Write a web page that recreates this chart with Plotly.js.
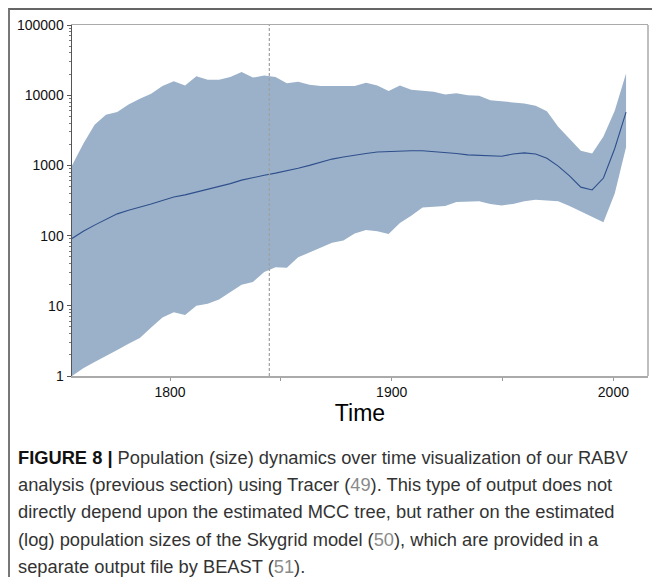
<!DOCTYPE html>
<html>
<head>
<meta charset="utf-8">
<script src="https://cdn.plot.ly/plotly-3.0.1.min.js"></script>
<style>
  html, body { margin: 0; padding: 0; background: #fff; }
  #wrap { position: relative; width: 652px; height: 577px; overflow: hidden; }
  #chart { position: absolute; left: 0; top: 0; width: 652px; height: 577px; }
  #frame { position: absolute; left: 8px; top: 8px; width: 800px; height: 800px;
           border-top: 2px solid #666; border-left: 2px solid #777; box-sizing: border-box; pointer-events: none; }
  #caption { position: absolute; left: 18px; top: 444px; width: 632px;
             font-family: "Liberation Sans", Arial, sans-serif; font-size: 18.3px; line-height: 27.2px;
             color: #333; white-space: nowrap; }
  #caption b { color: #111; }
  #caption .ref { color: #8a8a8a; }
</style>
</head>
<body>
<div id="wrap">
  <div id="chart"></div>
  <div id="frame"></div>
  <div id="caption"><b>FIGURE 8 |</b> Population (size) dynamics over time visualization of our RABV<br>analysis (previous section) using Tracer (<span class="ref">49</span>). This type of output does not<br>directly depend upon the estimated MCC tree, but rather on the estimated<br>(log) population sizes of the Skygrid model (<span class="ref">50</span>), which are provided in a<br>separate output file by BEAST (<span class="ref">51</span>).</div>
</div>
<script>
// Skygrid time points (years)
const years = [1755.8, 1760.9, 1766.0, 1771.1, 1776.2, 1781.3, 1786.4, 1791.5, 1796.6, 1801.7,
  1806.8, 1811.9, 1817.0, 1822.1, 1827.2, 1832.3, 1837.4, 1842.5, 1847.6, 1852.7,
  1857.8, 1862.9, 1868.0, 1873.1, 1878.2, 1883.3, 1888.4, 1893.5, 1898.6, 1903.7,
  1908.8, 1913.9, 1919.0, 1924.1, 1929.2, 1934.3, 1939.4, 1944.5, 1949.6, 1954.7,
  1959.8, 1964.9, 1970.0, 1975.1, 1980.2, 1985.3, 1990.4, 1995.5, 2000.6, 2005.7];

// upper 95% HPD
const upper = [1000, 2040, 3800, 5250, 5750, 7400, 8900, 10500, 13500, 15800,
  13800, 18600, 16600, 16600, 18200, 21400, 17800, 19100, 18200, 14800,
  15500, 14100, 13500, 13500, 13500, 13500, 15100, 13800, 11500, 13800,
  12000, 11700, 11200, 10200, 10700, 10000, 9800, 8500, 8100, 7900,
  7600, 7100, 5900, 3550, 2400, 1620, 1480, 2570, 6000, 20400];

// median
const median = [91, 115, 141, 170, 204, 229, 251, 282, 316, 355,
  380, 417, 447, 490, 550, 617, 676, 724, 776, 832,
  912, 1000, 1120, 1230, 1320, 1410, 1480, 1550, 1580, 1620,
  1620, 1620, 1580, 1550, 1480, 1410, 1380, 1380, 1350, 1450,
  1510, 1450, 1260, 977, 708, 490, 447, 661, 1740, 5750];

// lower 95% HPD
const lower = [1.0, 1.29, 1.58, 1.95, 2.34, 2.88, 3.47, 4.9, 6.8, 8.1,
  7.4, 10.0, 10.7, 12.3, 15.5, 20.0, 21.9, 30.2, 35.5, 34.7,
  49, 57.5, 66, 79, 85, 107, 120, 115, 105, 151,
  191, 251, 257, 263, 302, 302, 309, 282, 269, 282,
  309, 324, 316, 309, 263, 219, 186, 155, 398, 1820];

const markerYear = 1844.8;

const yTickVals = [1, 10, 100, 1000, 10000, 100000];
const yTickText = ["1", "10", "100", "1000", "10000", "100000"];
const xTickVals = [1800, 1900, 2000];
const xTickText = ["1800", "1900", "2000"];
const xMinorVals = [1850, 1950];

const yMinor = [];
for (let d = 0; d < 5; d++) for (let k = 2; k <= 9; k++) yMinor.push(k * Math.pow(10, d));

const bandColor = "rgb(154,177,201)";

const traces = [
  { x: years, y: lower, type: "scatter", mode: "lines", line: { width: 0, color: bandColor },
    hoverinfo: "skip", showlegend: false },
  { x: years, y: upper, type: "scatter", mode: "lines", line: { width: 0, color: bandColor },
    fill: "tonexty", fillcolor: bandColor, hoverinfo: "skip", showlegend: false },
  { x: years, y: median, type: "scatter", mode: "lines", line: { width: 1.1, color: "#2f4f8c" },
    showlegend: false }
];

const layout = {
  width: 652, height: 577,
  margin: { l: 72, r: 4, t: 25, b: 201, pad: 0 },
  paper_bgcolor: "#fff", plot_bgcolor: "#fff",
  showlegend: false,
  font: { family: "Liberation Sans, Arial, sans-serif", size: 14, color: "#111" },
  xaxis: {
    range: [1755.8, 2015.6], showgrid: false, zeroline: false,
    tickmode: "array", tickvals: xTickVals, ticktext: xTickText,
    ticks: "outside", ticklen: 3, tickcolor: "#999", tickwidth: 1,
    minor: { tickmode: "array", tickvals: xMinorVals, ticks: "outside", ticklen: 3, tickcolor: "#999", showgrid: false },
    showline: true, linecolor: "#aaa", linewidth: 1.5, mirror: true,
    tickfont: { size: 14, color: "#111" },
    title: { text: "Time", font: { size: 23, color: "#000" }, standoff: 1 }
  },
  yaxis: {
    type: "log", range: [0, 5], showgrid: false, zeroline: false,
    tickmode: "array", tickvals: yTickVals, ticktext: yTickText,
    ticks: "outside", ticklen: 4, tickcolor: "#555", tickwidth: 1,
    minor: { tickmode: "array", tickvals: yMinor, ticks: "outside", ticklen: 2, tickcolor: "#777", showgrid: false },
    showline: true, linecolor: "#555", linewidth: 1.5,
    tickfont: { size: 14, color: "#111" }
  },
  shapes: [
    { type: "line", xref: "x", yref: "paper", x0: markerYear, x1: markerYear, y0: 0, y1: 1,
      line: { color: "#a0a0a0", width: 1.2, dash: "3px,2px" } },
    { type: "line", xref: "paper", yref: "paper", x0: 1, x1: 1, y0: 0, y1: 1,
      line: { color: "#aaa", width: 1.5 } }
  ]
};

Plotly.newPlot("chart", traces, layout, { staticPlot: true, displayModeBar: false });
</script>
</body>
</html>
